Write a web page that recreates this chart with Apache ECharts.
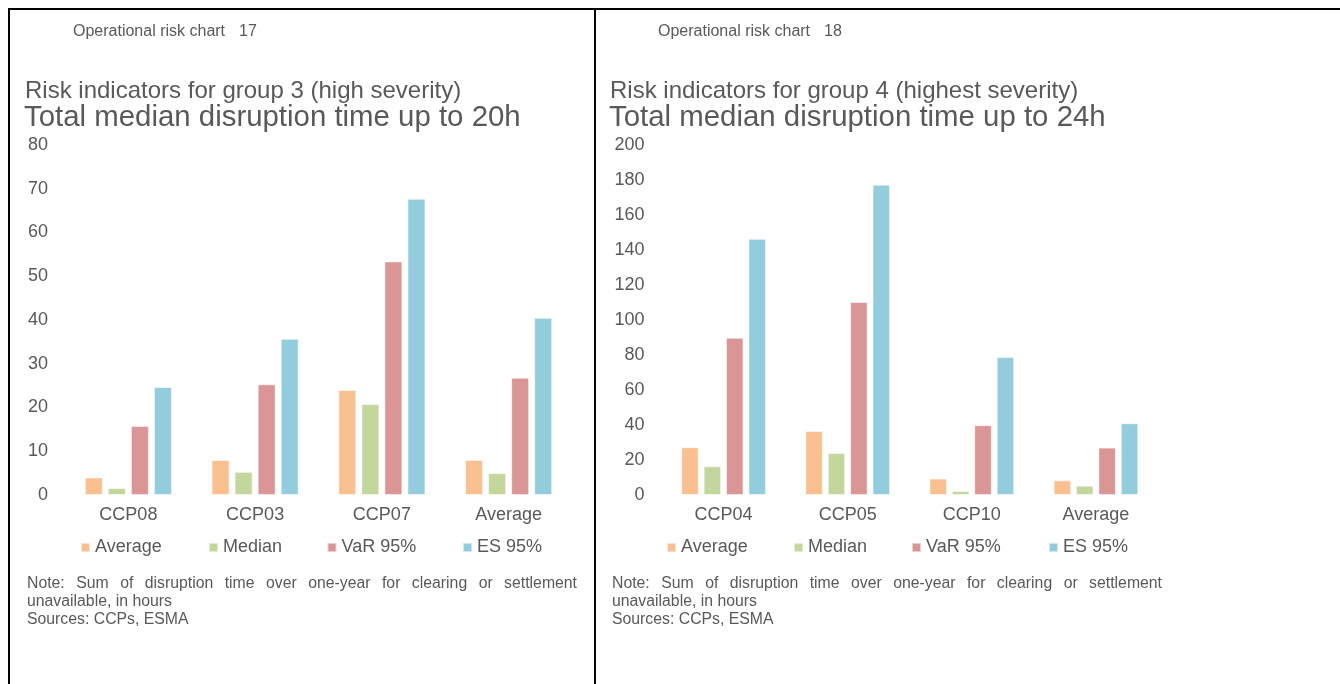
<!DOCTYPE html>
<html>
<head>
<meta charset="utf-8">
<script src="https://cdn.jsdelivr.net/npm/echarts@6/dist/echarts.min.js"></script>
<style>
html,body{margin:0;padding:0;background:#fff;}
#chart{width:1340px;height:684px;}
</style>
</head>
<body>
<div id="chart"></div>
<script>
// ---- data ----
const seriesNames = ['Average', 'Median', 'VaR 95%', 'ES 95%'];
const seriesColors = ['#FAC090', '#C3D69B', '#D99694', '#93CDDD'];

const categoriesLeft = ['CCP08', 'CCP03', 'CCP07', 'Average'];
const averageLeft = [4.0, 8.0, 24.0, 8.0];
const medianLeft = [1.6, 5.3, 20.8, 5.0];
const varLeft = [15.8, 25.3, 53.4, 26.8];
const esLeft = [24.7, 35.7, 67.7, 40.5];
const yTicksLeft = [0, 10, 20, 30, 40, 50, 60, 70, 80];

const categoriesRight = ['CCP04', 'CCP05', 'CCP10', 'Average'];
const averageRight = [27.3, 36.6, 9.4, 8.4];
const medianRight = [16.4, 24.0, 2.3, 5.3];
const varRight = [89.9, 110.3, 39.9, 27.1];
const esRight = [146.4, 177.3, 78.8, 41.0];
const yTicksRight = [0, 20, 40, 60, 80, 100, 120, 140, 160, 180, 200];

const headerLeft = ['Operational risk chart', '17'];
const headerRight = ['Operational risk chart', '18'];
const titleLeft = ['Risk indicators for group 3 (high severity)', 'Total median disruption time up to 20h'];
const titleRight = ['Risk indicators for group 4 (highest severity)', 'Total median disruption time up to 24h'];
const noteLine1 = 'Note: Sum of disruption time over one-year for clearing or settlement';
const noteLine2 = 'unavailable, in hours';
const noteLine3 = 'Sources: CCPs, ESMA';

// ---- rendering ----
const FONT = '"Liberation Sans", Arial, sans-serif';
const GREY = '#595959';
const chart = echarts.init(document.getElementById('chart'), null, {renderer: 'canvas'});

function yAxisFrom(ticks, gridIndex) {
  return {
    type: 'value', gridIndex: gridIndex,
    min: ticks[0], max: ticks[ticks.length - 1], interval: ticks[1] - ticks[0],
    axisLine: {show: false}, axisTick: {show: false}, splitLine: {show: false},
    axisLabel: {fontSize: 18, fontFamily: FONT, color: GREY, margin: 17, padding: [3, 0, 0, 0]}
  };
}
function xAxisFrom(cats, gridIndex) {
  return {
    type: 'category', gridIndex: gridIndex, data: cats,
    axisLine: {show: false}, axisTick: {show: false}, splitLine: {show: false},
    axisLabel: {fontSize: 18, fontFamily: FONT, color: GREY, margin: 11.5, lineHeight: 18}
  };
}
function barSeries(name, data, idx, bw) {
  return {
    type: 'bar', name: name, data: data, xAxisIndex: idx, yAxisIndex: idx,
    barWidth: bw, barGap: '28%',
    itemStyle: {color: seriesColors[seriesNames.indexOf(name)], borderColor: 'rgba(255,255,255,0.55)', borderWidth: 1},
    emphasis: {disabled: true}, animation: false
  };
}

const leftSets = [averageLeft, medianLeft, varLeft, esLeft];
const rightSets = [averageRight, medianRight, varRight, esRight];
const series = [];
seriesNames.forEach((n, i) => series.push(barSeries(n, leftSets[i], 0, 18)));
seriesNames.forEach((n, i) => series.push(barSeries(n, rightSets[i], 1, 17.5)));

const legendLeftX = [80, 208, 326.5, 462];
const legendRightX = [666, 793, 911, 1048];
const legends = [];
seriesNames.forEach((n, i) => {
  [legendLeftX[i], legendRightX[i]].forEach(x => legends.push({
    data: [n], left: x, top: 538.5, padding: 0, icon: 'rect', itemWidth: 9, itemHeight: 9,
    selectedMode: false,
    textStyle: {fontSize: 18, fontFamily: FONT, color: GREY, lineHeight: 18}
  }));
});

// graphic elements: frame lines and texts
const graphics = [];
function line(x1, y1, x2, y2) {
  graphics.push({type: 'line', silent: true, shape: {x1, y1, x2, y2}, style: {stroke: '#000', lineWidth: 2}});
}
line(8, 9, 1340, 9);
line(9, 8, 9, 684);
line(595, 8, 595, 684);

function text(str, x, y, size, align) {
  graphics.push({type: 'text', silent: true, style: {
    text: str, x: x, y: y, fill: GREY, fontSize: size, fontFamily: FONT,
    align: align || 'left', verticalAlign: 'middle'
  }});
}
const measureCtx = document.createElement('canvas').getContext('2d');
function measure(str, size) {
  measureCtx.font = size + 'px ' + FONT;
  return measureCtx.measureText(str).width;
}
function justified(str, x0, x1, y, size) {
  const words = str.split(' ');
  const widths = words.map(w => measure(w, size));
  const total = widths.reduce((a, b) => a + b, 0);
  const gap = (x1 - x0 - total) / (words.length - 1);
  let x = x0;
  words.forEach((w, i) => { text(w, x, y, size); x += widths[i] + gap; });
}

function panel(offset, header, title) {
  text(header[0], 73 + offset, 31.5, 16);
  text(header[1], 239 + offset, 31.5, 16);
  text(title[0], 25 + offset, 91, 24);
  text(title[1], 24 + offset, 118, 29.4);
  justified(noteLine1, 27 + offset, 577 + offset, 583.5, 15.8);
  text(noteLine2, 27 + offset, 601.5, 15.8);
  text(noteLine3, 27 + offset, 619.5, 15.8);
}
panel(0, headerLeft, titleLeft);
panel(585, headerRight, titleRight);

chart.setOption({
  animation: false,
  backgroundColor: '#fff',
  textStyle: {fontFamily: FONT},
  grid: [
    {left: 65, top: 145, width: 507, height: 350, containLabel: false},
    {left: 661.5, top: 145, width: 496.5, height: 350, containLabel: false}
  ],
  xAxis: [xAxisFrom(categoriesLeft, 0), xAxisFrom(categoriesRight, 1)],
  yAxis: [yAxisFrom(yTicksLeft, 0), yAxisFrom(yTicksRight, 1)],
  legend: legends,
  series: series,
  graphic: graphics
});
</script>
</body>
</html>
